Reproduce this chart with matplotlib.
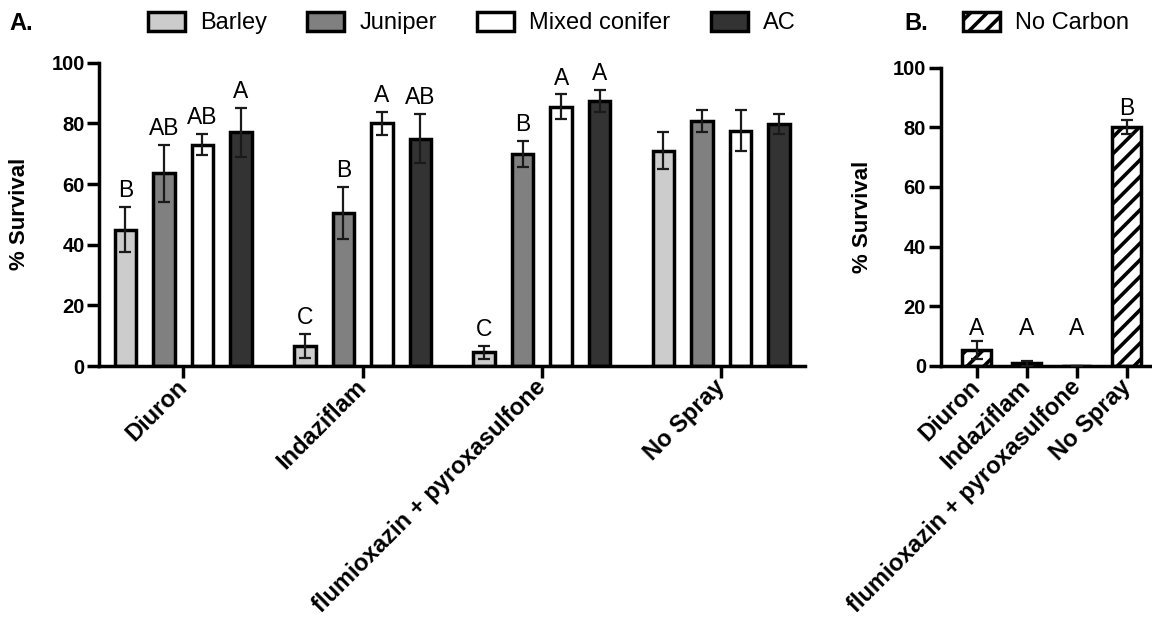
import matplotlib
matplotlib.use("Agg")
import matplotlib.pyplot as plt
import numpy as np

plt.rcParams['font.family'] = ['Liberation Sans', 'DejaVu Sans']
plt.rcParams['hatch.linewidth'] = 2.6
plt.rcParams['hatch.color'] = 'black'

# ---------------- data ----------------
treatments = ['Diuron', 'Indaziflam', 'flumioxazin + pyroxasulfone', 'No Spray']
series = ['Barley', 'Juniper', 'Mixed conifer', 'AC']
series_colors = ['#cccccc', '#808080', '#ffffff', '#333333']

barley_mean = [45, 6.6, 4.5, 71]
juniper_mean = [63.5, 50.5, 70, 80.7]
mixed_mean = [73, 80, 85.5, 77.6]
ac_mean = [77, 75, 87.5, 79.8]

barley_err = [7.5, 4.0, 2.2, 6.0]
juniper_err = [9.5, 8.5, 4.3, 3.7]
mixed_err = [3.5, 3.7, 4.1, 6.8]
ac_err = [8.0, 8.2, 3.6, 3.3]

barley_letters = ['B', 'C', 'C', '']
juniper_letters = ['AB', 'B', 'B', '']
mixed_letters = ['AB', 'A', 'A', '']
ac_letters = ['A', 'AB', 'A', '']

nocarbon_label = 'No Carbon'
nocarbon_mean = [5.3, 0.8, 0, 80]
nocarbon_err = [3.1, 0.9, 0, 2.3]
nocarbon_letters = ['A', 'A', 'A', 'B']

means = [barley_mean, juniper_mean, mixed_mean, ac_mean]
errs = [barley_err, juniper_err, mixed_err, ac_err]
letters = [barley_letters, juniper_letters, mixed_letters, ac_letters]

# ---------------- figure ----------------
W, H = 1152, 619
fig = plt.figure(figsize=(W / 100, H / 100), dpi=100)

def fx(px):
    return px / W

def fy(py):
    return 1 - py / H

axA = fig.add_axes([fx(99.3), fy(366), fx(805) - fx(99.3), fy(62.7) - fy(366)])
axB = fig.add_axes([fx(940.7), fy(365.7), 1.0 - fx(940.7), fy(67.7) - fy(365.7)])

LW = 2.5
tick_fs_y = 14.5
tick_fs_x = 17
letter_fs = 16.5
legend_fs = 17

def style_axes(ax):
    for s in ['top', 'right']:
        ax.spines[s].set_visible(False)
    for s in ['left', 'bottom']:
        ax.spines[s].set_linewidth(LW)
        ax.spines[s].set_capstyle('projecting')
    ax.set_ylim(0, 100)
    ax.set_yticks([0, 20, 40, 60, 80, 100])
    ax.tick_params(axis='both', length=8.5, width=LW, color='black', pad=2)
    ax.tick_params(axis='y', labelsize=tick_fs_y)
    ax.tick_params(axis='x', labelsize=tick_fs_x, pad=4)
    for lab in ax.get_yticklabels():
        lab.set_fontweight('bold')
    ax.set_ylabel('% Survival', fontsize=16, fontweight='bold')

# ---- Panel A ----
x = np.arange(len(treatments))
step = 0.2147
bw = 0.12
handles = []
for i, (m, e, col, lets, name) in enumerate(zip(means, errs, series_colors, letters, series)):
    xi = x + (i - 1.5) * step
    bars = axA.bar(xi, m, width=bw, color=col, edgecolor='black', linewidth=LW,
                   zorder=2, label=name)
    handles.append(bars)
    axA.errorbar(xi, m, yerr=e, fmt='none', ecolor='#1a1a1a', elinewidth=1.6,
                 capsize=4.5, capthick=1.6, zorder=3, clip_on=False)
    for xx, mm, ee, ll in zip(xi, m, e, lets):
        if ll:
            axA.annotate(ll, (xx, mm + ee), xytext=(0, 7), textcoords='offset points',
                         ha='center', va='baseline', fontsize=letter_fs,
                         annotation_clip=False)

axA.set_xlim(-0.468, 3.467)
axA.set_xticks(x)
axA.set_xticklabels(treatments, rotation=45, ha='right', va='center',
                    rotation_mode='anchor', fontweight='bold')
style_axes(axA)
axA.yaxis.set_label_coords(-0.098, 0.5)

# ---- Panel B ----
xb = np.arange(len(treatments))
barsB = axB.bar(xb, nocarbon_mean, width=0.58, color='white', edgecolor='black',
                linewidth=LW, hatch='//', zorder=2, label=nocarbon_label)
axB.errorbar(xb, nocarbon_mean, yerr=nocarbon_err, fmt='none', ecolor='#1a1a1a',
             elinewidth=1.6, capsize=4.5, capthick=1.6, zorder=3, clip_on=False)
tops = np.array(nocarbon_mean) + np.array(nocarbon_err)
for xx, ll in zip(xb, nocarbon_letters):
    same = [t for t, l in zip(tops, nocarbon_letters) if l == ll]
    axB.annotate(ll, (xx, max(same)), xytext=(0, 4), textcoords='offset points',
                 ha='center', va='baseline', fontsize=letter_fs, annotation_clip=False)
axB.set_xlim(-0.72, 3.5)
axB.set_xticks(xb)
axB.set_xticklabels(treatments, rotation=45, ha='right', va='center',
                    rotation_mode='anchor', fontweight='bold')
style_axes(axB)
axB.yaxis.set_label_coords(-0.32, 0.5)

# ---- legends and panel labels ----
fig.legend(handles=handles, labels=series, ncol=4, loc='center left',
           bbox_to_anchor=(fx(148), fy(23)), frameon=False, fontsize=legend_fs,
           handlelength=1.57, handleheight=0.85, handletextpad=0.64,
           columnspacing=1.7, borderpad=0, borderaxespad=0)
fig.legend(handles=[barsB], labels=[nocarbon_label], loc='center left',
           bbox_to_anchor=(fx(963), fy(23)), frameon=False, fontsize=legend_fs,
           handlelength=1.57, handleheight=0.85, handletextpad=0.64,
           borderpad=0, borderaxespad=0)

fig.text(fx(9), fy(23), 'A.', fontsize=17, fontweight='bold', va='center', ha='left')
fig.text(fx(904), fy(23), 'B.', fontsize=17, fontweight='bold', va='center', ha='left')

fig.savefig('out.png', dpi=100)
